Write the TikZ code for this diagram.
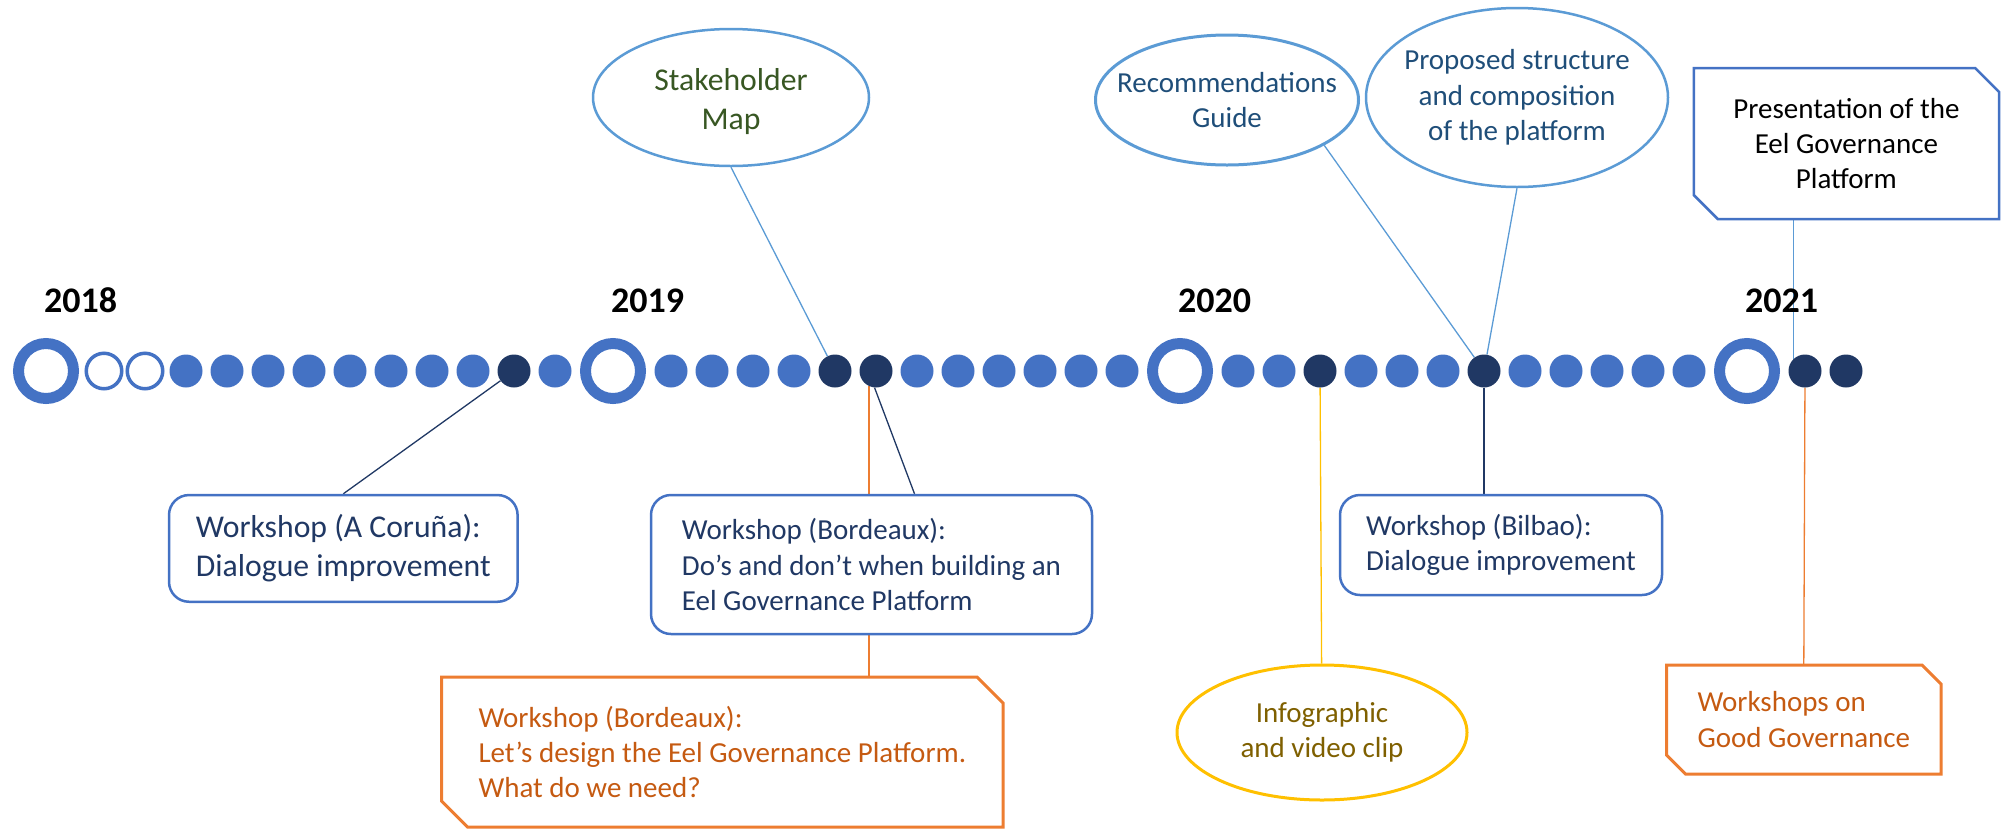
\documentclass[tikz,border=0pt]{standalone}
\usepackage{fontspec}
\setmainfont{Carlito}
\usetikzlibrary{shapes.geometric,backgrounds}

\definecolor{tlblue}{HTML}{4472C4}
\definecolor{tldark}{HTML}{203864}
\definecolor{tlsky}{HTML}{5B9BD5}
\definecolor{tlorange}{HTML}{ED7D31}
\definecolor{tlbrown}{HTML}{C55A11}
\definecolor{tlgold}{HTML}{FFC000}
\definecolor{tlolive}{HTML}{7F6000}
\definecolor{tlgreen}{HTML}{385723}
\definecolor{tlnavy}{HTML}{1F4E79}

\newcommand{\evtfont}{\fontsize{29}{35.4}\selectfont}
\newcommand{\evtfontlarge}{\fontsize{31.7}{38.7}\selectfont}

% frame with two snipped corners round a plain node
\newcommand{\snipframe}[3]{%
  \draw[#1] (#2.north west) -- ([xshift=-#3]#2.north east) -- ([yshift=-#3]#2.north east)
    -- (#2.south east) -- ([xshift=#3]#2.south west) -- ([yshift=#3]#2.south west) -- cycle;}

\tikzset{
  bigring/.style={circle, draw=tlblue, line width=11pt, fill=white, minimum size=55pt, inner sep=0pt},
  openring/.style={circle, draw=tlblue, line width=3.5pt, fill=white, minimum size=35.5pt, inner sep=0pt},
  monthdot/.style={circle, fill=tlblue, minimum size=33pt, inner sep=0pt},
  eventdot/.style={monthdot, fill=tldark},
  yearlabel/.style={anchor=base west, inner sep=0pt, font=\bfseries\fontsize{36}{43}\selectfont},
  bluebox/.style={rectangle, rounded corners=20pt, draw=tlblue, line width=2.5pt, fill=white,
    text=tldark, align=left, inner sep=4pt, font=\evtfont},
  orangebox/.style={rectangle, text=tlbrown, align=left, inner sep=4pt, outer sep=0pt, font=\evtfont},
  presbox/.style={rectangle, text=black, align=center, inner sep=4pt, outer sep=0pt, font=\evtfont},
  orangeframe/.style={draw=tlorange, line width=3pt},
  presframe/.style={draw=tlblue, line width=2.5pt},
  bubble/.style={ellipse, draw=tlsky, line width=2.5pt, fill=white, inner sep=0pt},
  bubbletext/.style={align=center, inner sep=0pt, font=\evtfont},
  tielink/.style={line width=1.3pt},
  % months that differ from the plain dot
  m2018-1/.style={openring}, m2018-2/.style={openring},
  m2018-11/.style={eventdot},
  m2019-5/.style={eventdot}, m2019-6/.style={eventdot},
  m2020-3/.style={eventdot}, m2020-7/.style={eventdot},
  m2021-1/.style={eventdot}, m2021-2/.style={eventdot}
}

\begin{document}
\begin{tikzpicture}[x=1pt, y=-1pt]
  \useasboundingbox (0,0) rectangle (2008,828);

  % timeline
  \foreach \yr/\last [count=\i from 0] in {2018/12,2019/12,2020/12,2021/2}{
    \pgfmathsetmacro{\rx}{46+567*\i}
    \node[bigring] (r\yr) at (\rx,371) {};
    \node[yearlabel] (t\yr) at (\rx-2,312) {\yr};
    \foreach \m in {1,...,\last}
      \node[monthdot, m\yr-\m/.try] (d\yr-\m) at (\rx+17+41*\m,371) {};
  }

  % outputs above the line
  \node[bubble, minimum width=276pt, minimum height=137pt] (stake) at (731,97.5) {};
  \node[bubbletext, text=tlgreen, font=\evtfontlarge] (stake text) at ([yshift=-4pt]stake.center) {Stakeholder\\Map};
  \node[bubble, line width=3pt, minimum width=263pt, minimum height=130pt] (recom) at (1227,100) {};
  \node[bubbletext, text=tlnavy] (recom text) at (recom.center) {Recommendations\\Guide};
  \node[bubble, minimum width=302pt, minimum height=179pt] (propo) at (1517,97.5) {};
  \node[bubbletext, text=tlnavy] (propo text) at (propo.center) {Proposed structure\\and composition\\of the platform};
  \node[presbox, minimum width=305.3pt, minimum height=151pt] (pres) at (1846.4,143.5) {Presentation of the\\Eel Governance\\Platform};
  \snipframe{presframe}{pres}{24pt}

  % workshops below the line
  \node[bluebox, font=\evtfontlarge, minimum width=348.6pt, minimum height=106.7pt] (coruna) at (343.3,548.4) {Workshop (A Coruña):\\Dialogue improvement};
  \node[bluebox, minimum width=441pt, minimum height=139pt] (dobox) at (871.5,564.5) {Workshop (Bordeaux):\\Do’s and don’t when building an\\Eel Governance Platform};
  \node[bluebox, minimum width=322pt, minimum height=100pt] (bilbao) at (1501,545) {Workshop (Bilbao):\\Dialogue improvement};
  \node[orangebox, minimum width=561.5pt, minimum height=150pt] (design) at (722.3,752) {Workshop (Bordeaux):\\Let’s design the Eel Governance Platform.\\What do we need?};
  \snipframe{orangeframe}{design}{26pt}
  \node[bubble, draw=tlgold, line width=3pt, minimum width=290pt, minimum height=135pt] (infog) at (1322,732.5) {};
  \node[bubbletext, text=tlolive] (infog text) at (infog.center) {Infographic\\and video clip};
  \node[orangebox, minimum width=274.5pt, minimum height=109pt] (goodgov) at (1803.8,719.5) {Workshops on\\Good Governance};
  \snipframe{orangeframe}{goodgov}{19pt}

  % connectors
  \begin{scope}[on background layer]
    \draw[tielink, tldark] (coruna.north) -- (d2018-11);
    \draw[tielink, tlsky] (stake.south) -- (d2019-5);
    \draw[tielink, tldark] (d2019-6.265) -- ([xshift=43pt]dobox.north);
    \draw[tielink, tlorange] (d2019-6.245) -- (d2019-6.245 |- design.north);
    \draw[tielink, tlgold] (d2020-3) -- (infog);
    \draw[tielink, tlsky] (recom.-25) -- (d2020-7);
    \draw[tielink, tlsky] (propo.south) -- (d2020-7);
    \draw[tielink, tldark] (d2020-7) -- (d2020-7 |- bilbao.north);
    \draw[tielink, tlsky] (d2021-1.132) -- (d2021-1.132 |- pres.south);
    \draw[tielink, tlorange] (d2021-1) -- (goodgov.north);
  \end{scope}
\end{tikzpicture}
\end{document}
